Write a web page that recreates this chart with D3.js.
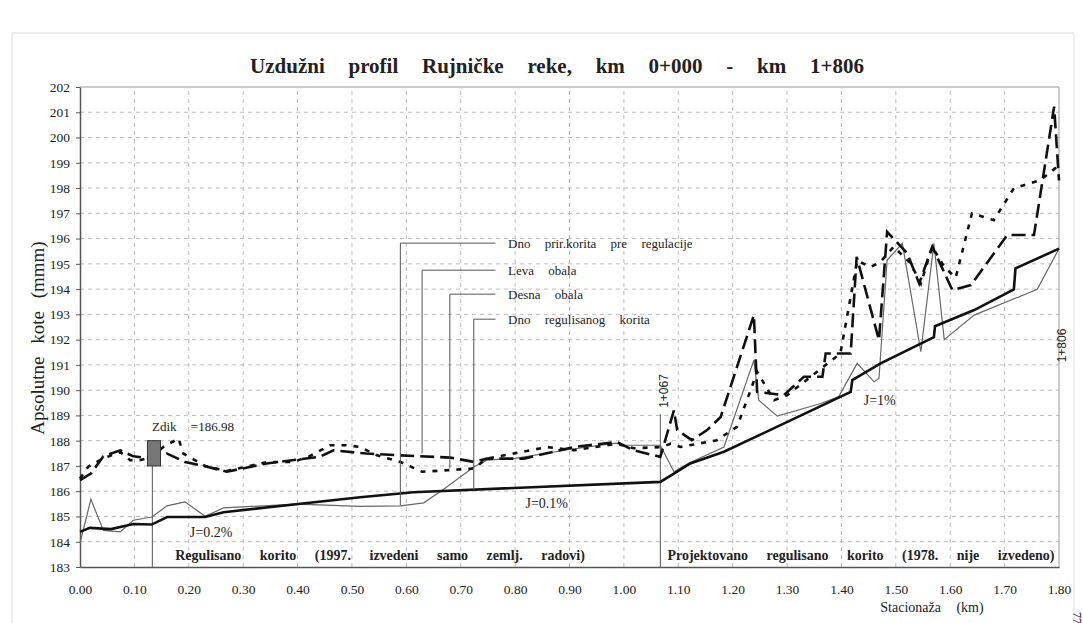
<!DOCTYPE html>
<html>
<head>
<meta charset="utf-8">
<script src="https://cdn.jsdelivr.net/npm/d3@7"></script>
<style>
  body { margin: 0; background: #fff; }
  svg { display: block; }
  text { font-family: "Liberation Serif", "DejaVu Serif", serif; fill: #222; }
</style>
</head>
<body>
<div id="chart"></div>
<script>
// stacionaza (km) / kota (m) for every line of the profile
var dnoRegulisanog = [[0,184.39],[0.018,184.55],[0.057,184.5],[0.098,184.7],[0.132,184.68],[0.16,184.98],[0.23,184.98],[0.264,185.17],[0.515,185.76],[0.613,185.96],[1.067,186.37],[1.092,186.7],[1.122,187.1],[1.184,187.56],[1.417,189.93],[1.42,190.4],[1.472,191.06],[1.57,192.1],[1.572,192.53],[1.644,193.17],[1.717,193.99],[1.72,194.82],[1.80,195.6]];
var dnoPrirodnog = [[0,183.94],[0.02,185.68],[0.043,184.45],[0.074,184.39],[0.098,184.85],[0.132,184.98],[0.16,185.42],[0.193,185.58],[0.23,185.01],[0.264,185.34],[0.40,185.49],[0.515,185.4],[0.589,185.42],[0.632,185.54],[0.668,186.07],[0.724,186.96],[0.748,187.23],[0.80,187.3],[0.90,187.65],[0.985,187.9],[1.0,187.82],[1.067,187.82],[1.092,186.77],[1.12,187.12],[1.184,187.75],[1.239,191.19],[1.248,189.6],[1.282,188.97],[1.362,189.47],[1.395,189.75],[1.429,191.06],[1.46,190.33],[1.469,190.46],[1.484,195.15],[1.512,195.81],[1.546,191.52],[1.57,195.81],[1.589,192.0],[1.644,192.97],[1.76,193.99],[1.80,195.6]];
var levaObala = [[0,186.44],[0.02,186.7],[0.043,187.38],[0.074,187.62],[0.098,187.38],[0.132,187.3],[0.16,187.49],[0.193,187.16],[0.23,186.99],[0.27,186.77],[0.343,187.1],[0.441,187.36],[0.466,187.62],[0.527,187.49],[0.589,187.42],[0.681,187.33],[0.724,187.16],[0.748,187.29],[0.816,187.29],[0.908,187.75],[0.987,187.95],[1.018,187.62],[1.067,187.36],[1.092,189.2],[1.098,188.42],[1.125,188.02],[1.153,188.42],[1.178,188.94],[1.239,192.97],[1.245,189.93],[1.294,189.8],[1.331,190.53],[1.365,190.53],[1.371,191.45],[1.417,191.45],[1.428,195.28],[1.469,191.98],[1.484,196.27],[1.521,195.41],[1.543,194.22],[1.567,195.68],[1.604,193.96],[1.638,194.16],[1.705,196.14],[1.754,196.14],[1.791,201.22],[1.80,198.3]];
var desnaObala = [[0,186.5],[0.015,186.97],[0.043,187.3],[0.074,187.55],[0.092,187.23],[0.11,187.23],[0.132,187.35],[0.153,187.75],[0.181,188.09],[0.19,187.49],[0.23,187.0],[0.27,186.8],[0.343,187.15],[0.392,187.16],[0.42,187.36],[0.46,187.82],[0.49,187.82],[0.515,187.75],[0.546,187.42],[0.589,187.16],[0.629,186.77],[0.675,186.83],[0.724,186.9],[0.748,187.29],[0.859,187.75],[0.908,187.62],[0.987,187.88],[1.018,187.7],[1.07,187.75],[1.086,187.88],[1.104,187.75],[1.171,188.02],[1.208,188.55],[1.233,190.0],[1.245,190.73],[1.276,189.6],[1.30,189.8],[1.398,191.45],[1.429,195.12],[1.454,194.88],[1.472,195.08],[1.496,195.68],[1.527,195.02],[1.546,194.22],[1.567,195.68],[1.589,194.88],[1.61,194.45],[1.64,197.0],[1.68,196.73],[1.717,197.99],[1.766,198.32],[1.797,198.85]];

var yTicks = [183,184,185,186,187,188,189,190,191,192,193,194,195,196,197,198,199,200,201,202];
var xTicks = [0,0.1,0.2,0.3,0.4,0.5,0.6,0.7,0.8,0.9,1.0,1.1,1.2,1.3,1.4,1.5,1.6,1.7,1.8];

// legend: label, where the leader points (st, kota), row elevation
var legendNames = ["Dno prir.korita pre regulacije", "Leva obala", "Desna obala", "Dno regulisanog korita"];
var legendSt = [0.589, 0.629, 0.680, 0.724];
var legendTip = [185.45, 187.5, 186.9, 186.04];
var legendRow = [195.82, 194.75, 193.8, 192.81];

var zdik = {st0: 0.124, st1: 0.148, lo: 187.0, hi: 188.0, line: 0.133};
var st1067 = 1.067;

var width = 1083, height = 623;
var margin = {top: 87, right: 24, bottom: 56, left: 80};

var x = d3.scaleLinear().domain([0, 1.80]).range([margin.left, width - margin.right]);
var y = d3.scaleLinear().domain([183, 202]).range([height - margin.bottom, margin.top]);

var svg = d3.select("#chart").append("svg")
    .attr("width", width)
    .attr("height", height);

// faint page frame
svg.append("rect")
    .attr("x", 12).attr("y", 33)
    .attr("width", 1062).attr("height", 620)
    .attr("fill", "none").attr("stroke", "#ddd");

// grid
svg.append("g").selectAll("line").data(yTicks.slice(1, -1)).enter().append("line")
    .attr("x1", x(0)).attr("x2", x(1.8))
    .attr("y1", function(d){ return y(d); }).attr("y2", function(d){ return y(d); })
    .attr("stroke", "#bbb").attr("stroke-dasharray", "4,4");
svg.append("g").selectAll("line").data(xTicks.slice(1, -1)).enter().append("line")
    .attr("x1", function(d){ return x(d); }).attr("x2", function(d){ return x(d); })
    .attr("y1", y(183)).attr("y2", y(202))
    .attr("stroke", "#bbb").attr("stroke-dasharray", "4,4");

// top + right border
svg.append("path")
    .attr("d", "M" + x(0) + "," + y(202) + "H" + x(1.8) + "V" + y(183))
    .attr("fill", "none").attr("stroke", "#999");

// axes
var yAxis = svg.append("g")
    .attr("transform", "translate(" + x(0) + ",0)")
    .call(d3.axisLeft(y).tickValues(yTicks).tickFormat(d3.format("d")).tickSize(4).tickPadding(6).tickSizeOuter(0));
var xAxis = svg.append("g")
    .attr("transform", "translate(0," + y(183) + ")")
    .call(d3.axisBottom(x).tickValues(xTicks).tickFormat(d3.format(".2f")).tickSize(0).tickPadding(17).tickSizeOuter(0));
svg.selectAll(".domain").attr("stroke", "#555").attr("stroke-width", 1.5);
svg.selectAll(".tick line").attr("stroke", "#555");
svg.selectAll(".tick text").style("font-family", "Liberation Serif").style("font-size", "13.5px").attr("fill", "#333");

// marker lines
svg.append("line")
    .attr("x1", x(zdik.line)).attr("x2", x(zdik.line))
    .attr("y1", y(zdik.lo)).attr("y2", y(183))
    .attr("stroke", "#555");
svg.append("line")
    .attr("x1", x(st1067)).attr("x2", x(st1067))
    .attr("y1", y(189.05)).attr("y2", y(183))
    .attr("stroke", "#555");

// series
var line = d3.line().x(function(d){ return x(d[0]); }).y(function(d){ return y(d[1]); });
svg.append("path").datum(dnoPrirodnog).attr("d", line)
    .attr("fill", "none").attr("stroke", "#666").attr("stroke-width", 1.2);
svg.append("path").datum(levaObala).attr("d", line)
    .attr("fill", "none").attr("stroke", "#111").attr("stroke-width", 2.6)
    .attr("stroke-dasharray", "14,6");
svg.append("path").datum(desnaObala).attr("d", line)
    .attr("fill", "none").attr("stroke", "#111").attr("stroke-width", 2.6)
    .attr("stroke-dasharray", "5,7");
svg.append("path").datum(dnoRegulisanog).attr("d", line)
    .attr("fill", "none").attr("stroke", "#111").attr("stroke-width", 2.6);

// Zdik box
svg.append("rect")
    .attr("x", x(zdik.st0)).attr("y", y(zdik.hi))
    .attr("width", x(zdik.st1) - x(zdik.st0))
    .attr("height", y(zdik.lo) - y(zdik.hi))
    .attr("fill", "#777").attr("stroke", "#333");
svg.append("text")
    .attr("x", x(0.1325)).attr("y", y(188.38))
    .style("font-size", "13px").style("word-spacing", "11px")
    .text("Zdik =186.98");

// legend leaders
for (var i = 0; i < legendNames.length; i++) {
    svg.append("path")
        .attr("d", "M" + x(legendSt[i]) + "," + y(legendTip[i]) + "V" + y(legendRow[i]) + "H" + x(0.764))
        .attr("fill", "none").attr("stroke", "#555");
    svg.append("text")
        .attr("x", x(0.787)).attr("y", y(legendRow[i]) + 5)
        .style("font-size", "13px").style("word-spacing", "11px")
        .text(legendNames[i]);
}

// slope notes and section names
svg.append("text").attr("x", x(0.202)).attr("y", y(184.18))
    .style("font-size", "14px").text("J=0.2%");
svg.append("text").attr("x", x(0.819)).attr("y", y(185.33))
    .style("font-size", "14px").text("J=0.1%");
svg.append("text").attr("x", x(1.441)).attr("y", y(189.41))
    .style("font-size", "14px").text("J=1%");

svg.append("text").attr("x", x(0.175)).attr("y", y(183.27))
    .style("font-size", "14px").style("font-weight", "bold").style("word-spacing", "15px")
    .text("Regulisano korito (1997. izvedeni samo zemlj. radovi)");
svg.append("text").attr("x", x(1.08)).attr("y", y(183.27))
    .style("font-size", "14px").style("font-weight", "bold").style("word-spacing", "15px")
    .text("Projektovano regulisano korito (1978. nije izvedeno)");

// station marks
svg.append("text")
    .attr("transform", "translate(" + (x(st1067) + 8) + "," + y(189.3) + ") rotate(-90)")
    .style("font-family", "Liberation Sans").style("font-size", "12px")
    .text("1+067");
svg.append("text")
    .attr("transform", "translate(" + (x(1.8) + 7) + "," + y(191.1) + ") rotate(-90)")
    .style("font-family", "Liberation Sans").style("font-size", "12px")
    .text("1+806");

// titles
svg.append("text")
    .attr("x", 557).attr("y", 73)
    .attr("text-anchor", "middle")
    .style("font-size", "21px").style("font-weight", "bold").style("word-spacing", "18.5px")
    .text("Uzdužni profil Rujničke reke, km 0+000 - km 1+806");
svg.append("text")
    .attr("transform", "translate(44,338) rotate(-90)")
    .attr("text-anchor", "middle")
    .style("font-size", "19px").style("word-spacing", "8px")
    .text("Apsolutne kote (mmm)");
svg.append("text")
    .attr("x", 932).attr("y", 612)
    .attr("text-anchor", "middle")
    .style("font-size", "14px").style("word-spacing", "12px")
    .text("Stacionaža (km)");
svg.append("text")
    .attr("transform", "translate(1073,612) rotate(90)")
    .style("font-size", "12px").attr("fill", "#555")
    .text("77");
</script>
</body>
</html>
